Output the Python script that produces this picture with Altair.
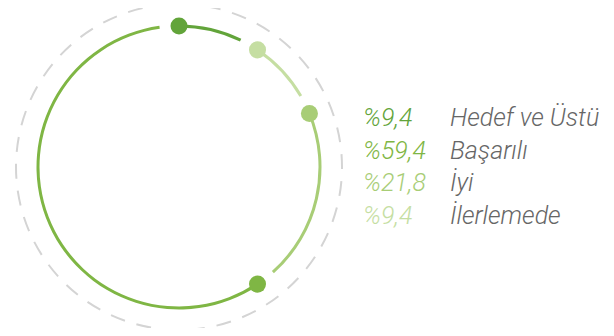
import altair as alt
import pandas as pd

# ---- data ----
categories = ["Hedef ve Üstü", "Başarılı", "İyi", "İlerlemede"]
values = [9.4, 59.4, 21.8, 9.4]
value_labels = ["%9,4", "%59,4", "%21,8", "%9,4"]
colors = ["#62a43a", "#7fb644", "#a8cd76", "#c5dea2"]
ring_order = ["Hedef ve Üstü", "İlerlemede", "İyi", "Başarılı"]  # clockwise from top

# ---- layout constants ----
W, H = 598, 320
CX, CY = 171, 159          # ring centre in plot pixels (from left / top)
R = 141                    # ring radius (px)
GAP = 2.2                  # gap after each segment, in percent of the circle

val = dict(zip(categories, values))
rows = []
start = 0.0
for c in ring_order:
    end = start + val[c]
    rows.append({"cat": c, "start": start, "end": end - GAP})
    start = end
ring = pd.DataFrame(rows)

legend = pd.DataFrame({
    "cat": categories,
    "pct": value_labels,
    "row": list(range(len(categories))),
})

xs = alt.Scale(domain=[-CX / R, (W - CX) / R], nice=False, zero=False)
ys = alt.Scale(domain=[-(H - CY) / R, CY / R], nice=False, zero=False)
col = alt.Scale(domain=categories, range=colors)

base_ring = alt.Chart(ring)

dashed = alt.Chart(pd.DataFrame({"k": [0]})).mark_arc(
    radius=163, fill="transparent", stroke="#d4d4d4", strokeWidth=2, strokeDash=[15, 12]
).encode(
    x=alt.datum(0, scale=xs, axis=None),
    y=alt.datum(0, scale=ys, axis=None),
    theta=alt.value(0),
    theta2=alt.value(6.2832),
)

arcs = base_ring.mark_arc(radius=142.5, radius2=139.5).encode(
    x=alt.datum(0, scale=xs, axis=None),
    y=alt.datum(0, scale=ys, axis=None),
    theta=alt.Theta("start:Q", scale=alt.Scale(domain=[0, 100], range=[0, 6.283185307])),
    theta2="end:Q",
    color=alt.Color("cat:N", scale=col, legend=None),
)

dots = base_ring.transform_calculate(
    dx="sin(datum.start / 100 * 2 * PI)",
    dy="cos(datum.start / 100 * 2 * PI)",
).mark_circle(size=290, opacity=1).encode(
    x=alt.X("dx:Q", scale=xs, axis=None),
    y=alt.Y("dy:Q", scale=ys, axis=None),
    color=alt.Color("cat:N", scale=col, legend=None),
)

LX1, LX2 = 355, 442         # legend columns (px)
LY0, LSTEP = 118, 32.5      # first baseline (px from top), row step

leg = alt.Chart(legend).transform_calculate(
    lx1=f"({LX1} - {CX}) / {R}",
    lx2=f"({LX2} - {CX}) / {R}",
    ly=f"({CY} - ({LY0} + datum.row * {LSTEP})) / {R}",
)

pct_text = leg.mark_text(
    align="left", baseline="alphabetic", font="Roboto", fontStyle="italic",
    fontWeight=300, fontSize=25,
).encode(
    x=alt.X("lx1:Q", scale=xs, axis=None),
    y=alt.Y("ly:Q", scale=ys, axis=None),
    text="pct:N",
    color=alt.Color("cat:N", scale=col, legend=None),
)

name_text = leg.mark_text(
    align="left", baseline="alphabetic", font="Roboto", fontStyle="italic",
    fontWeight=300, fontSize=25, color="#666666",
).encode(
    x=alt.X("lx2:Q", scale=xs, axis=None),
    y=alt.Y("ly:Q", scale=ys, axis=None),
    text="cat:N",
)

chart = alt.layer(dashed, arcs, dots, pct_text, name_text).properties(
    width=W, height=H, padding=0, autosize=alt.AutoSizeParams(type="none")
).configure_view(stroke=None)

chart.save("out.html", embed_options={"renderer": "svg", "actions": False})
